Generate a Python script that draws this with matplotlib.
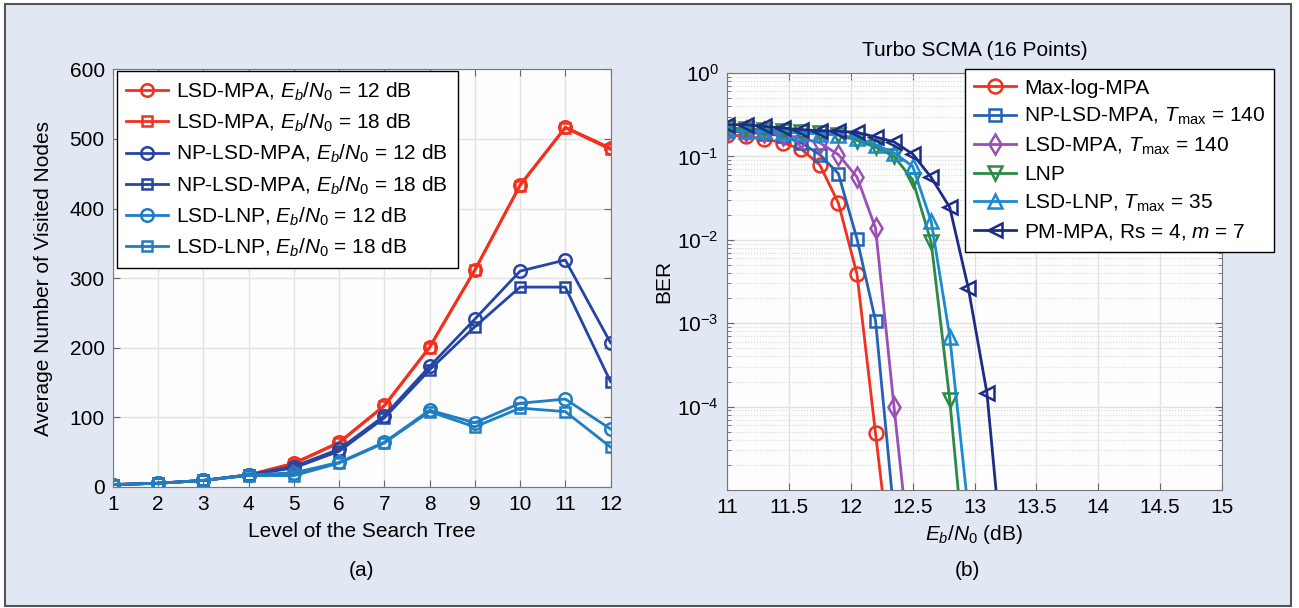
import matplotlib
matplotlib.use('Agg')
import matplotlib.pyplot as plt
from matplotlib.patches import Rectangle

plt.rcParams['font.family'] = ['Liberation Sans', 'DejaVu Sans']
plt.rcParams['mathtext.fontset'] = 'custom'
plt.rcParams['mathtext.rm'] = 'Liberation Sans'
plt.rcParams['mathtext.it'] = 'Liberation Sans:italic'
plt.rcParams['xtick.direction'] = 'in'
plt.rcParams['ytick.direction'] = 'in'

# (a) visited nodes per tree level
levels = [1, 2, 3, 4, 5, 6, 7, 8, 9, 10, 11, 12]
lsd_mpa_12 = [3, 5, 9, 17, 34, 64, 117, 201, 312, 434, 517, 487]
lsd_mpa_18 = [3, 5, 9, 17, 33, 63, 116, 200, 311, 433, 516, 485]
np_lsd_12 = [3, 5, 9, 17, 29, 54, 102, 173, 241, 310, 326, 207]
np_lsd_18 = [3, 5, 9, 17, 27, 51, 99, 168, 230, 287, 287, 151]
lsd_lnp_12 = [3, 5, 9, 17, 20, 35, 64, 110, 92, 120, 126, 83]
lsd_lnp_18 = [3, 5, 9, 16, 16, 34, 63, 108, 86, 113, 108, 57]

# (b) BER vs Eb/N0
ebn0 = [11.0, 11.15, 11.3, 11.45, 11.6, 11.75, 11.9, 12.05, 12.2, 12.35,
        12.5, 12.65, 12.8, 12.95, 13.1, 13.25]
ber_maxlog = [0.182, 0.174, 0.163, 0.145, 0.122, 0.079, 0.0275, 0.0039, 4.8e-5, 6e-7]
ber_np_lsd = [0.200, 0.194, 0.187, 0.177, 0.145, 0.105, 0.062, 0.0103, 1.07e-3, 5e-6]
ber_lsd_mpa = [0.204, 0.200, 0.195, 0.182, 0.166, 0.145, 0.105, 0.0565, 0.0138, 9.8e-5, 8e-7]
ber_lnp = [0.219, 0.215, 0.209, 0.203, 0.196, 0.191, 0.182, 0.155, 0.129, 0.100,
           0.0525, 0.0093, 1.2e-4, 5e-7]
ber_lsd_lnp = [0.209, 0.204, 0.200, 0.195, 0.191, 0.186, 0.180, 0.166, 0.138, 0.110,
               0.076, 0.0166, 6.9e-4, 5.6e-6]
ber_pm = [0.240, 0.240, 0.229, 0.219, 0.209, 0.203, 0.200, 0.194, 0.171, 0.149,
          0.107, 0.056, 0.0244, 2.63e-3, 1.47e-4, 6.3e-7]

red = '#f2301e'
blue_dk = '#2545a5'
blue_lt = '#1f7dc2'

fig = plt.figure(figsize=(12.99, 6.08), dpi=100, facecolor='white')
fig.patches.append(Rectangle((5 / 1299, 2 / 608), 1286 / 1299, 602 / 608,
                             transform=fig.transFigure, facecolor='#e1e7f3',
                             edgecolor='#555555', linewidth=1.5, zorder=-10))

fs = 15
EbN0 = r'$E_b/N_0$'

# ---- left plot ----
ax1 = fig.add_axes([0.087, 0.1995, 0.383, 0.6863])
ax1.set_facecolor('#fdfdfe')
kc = dict(lw=2.0, ms=9, mew=1.8, mfc='none')
ks = dict(lw=2.0, ms=7.5, mew=1.8, mfc='none')
ax1.plot(levels, lsd_mpa_12, 'o-', color=red, label='LSD-MPA, ' + EbN0 + ' = 12 dB', **kc)
ax1.plot(levels, lsd_mpa_18, 's-', color=red, label='LSD-MPA, ' + EbN0 + ' = 18 dB', **ks)
ax1.plot(levels, np_lsd_12, 'o-', color=blue_dk, label='NP-LSD-MPA, ' + EbN0 + ' = 12 dB', **kc)
ax1.plot(levels, np_lsd_18, 's-', color=blue_dk, label='NP-LSD-MPA, ' + EbN0 + ' = 18 dB', **ks)
ax1.plot(levels, lsd_lnp_12, 'o-', color=blue_lt, label='LSD-LNP, ' + EbN0 + ' = 12 dB', **kc)
ax1.plot(levels, lsd_lnp_18, 's-', color=blue_lt, label='LSD-LNP, ' + EbN0 + ' = 18 dB', **ks)
ax1.set_xlim(1, 12)
ax1.set_ylim(0, 600)
ax1.set_xticks(levels)
ax1.set_yticks([0, 100, 200, 300, 400, 500, 600])
ax1.grid(True, color='#e2e2e2', lw=1)
ax1.set_axisbelow(True)
ax1.tick_params(labelsize=fs, top=True, right=True, length=5, color='#666666', pad=6)
for s in ax1.spines.values():
    s.set_color('#777777')
ax1.set_xlabel('Level of the Search Tree', fontsize=fs, labelpad=6)
ax1.set_ylabel('Average Number of Visited Nodes', fontsize=fs, labelpad=12)
leg1 = ax1.legend(loc='upper left', bbox_to_anchor=(0.008, 0.996), fontsize=fs,
                  handlelength=2.0, labelspacing=0.43, borderpad=0.45,
                  borderaxespad=0, handletextpad=0.4,
                  fancybox=False, framealpha=1, edgecolor='black')
leg1.get_frame().set_linewidth(1.0)
fig.text(0.2785, 0.062, '(a)', fontsize=fs, ha='center', va='center')

# ---- right plot ----
ax2 = fig.add_axes([0.5597, 0.194, 0.381, 0.686])
ax2.set_facecolor('#fdfdfe')
kw2 = dict(lw=2.0, ms=10, mew=1.8, mfc='none')
ax2.semilogy(ebn0[:len(ber_maxlog)], ber_maxlog, 'o-', color=red, label='Max-log-MPA', **kw2)
ax2.semilogy(ebn0[:len(ber_np_lsd)], ber_np_lsd, 's-', color='#2462b4',
             label=r'NP-LSD-MPA, $T_{\rm max}$ = 140', lw=2.0, ms=8, mew=1.8, mfc='none')
ax2.semilogy(ebn0[:len(ber_lsd_mpa)], ber_lsd_mpa, 'd-', color='#9b4fb5',
             label=r'LSD-MPA, $T_{\rm max}$ = 140', **kw2)
ax2.semilogy(ebn0[:len(ber_lnp)], ber_lnp, 'v-', color='#2c8a45', label='LNP', **kw2)
ax2.semilogy(ebn0[:len(ber_lsd_lnp)], ber_lsd_lnp, '^-', color='#1c8ad0',
             label=r'LSD-LNP, $T_{\rm max}$ = 35', **kw2)
ax2.semilogy(ebn0[:len(ber_pm)], ber_pm, '<-', color='#1d2d85',
             label=r'PM-MPA, Rs = 4, $m$ = 7', **kw2)
ax2.set_xlim(11, 15)
ax2.set_ylim(1e-5, 1)
ax2.set_xticks([11, 11.5, 12, 12.5, 13, 13.5, 14, 14.5, 15])
ax2.set_xticklabels(['11', '11.5', '12', '12.5', '13', '13.5', '14', '14.5', '15'])
ax2.set_yticks([1e-4, 1e-3, 1e-2, 1e-1, 1])
ax2.grid(True, which='major', color='#e2e2e2', lw=1)
ax2.grid(True, which='minor', color='#d8d8d8', lw=0.8, ls=':')
ax2.set_axisbelow(True)
ax2.tick_params(which='both', labelsize=fs, top=True, right=True, color='#666666')
ax2.tick_params(which='major', length=5, pad=6)
ax2.tick_params(which='minor', length=3)
for s in ax2.spines.values():
    s.set_color('#777777')
ax2.set_xlabel(r'$E_b/N_0$ (dB)', fontsize=fs, labelpad=4)
ax2.set_ylabel('BER', fontsize=fs)
ax2.yaxis.set_label_coords(-0.108, 0.5)
ax2.set_title('Turbo SCMA (16 Points)', fontsize=fs, pad=12)
leg2 = ax2.legend(loc='upper left', bbox_to_anchor=(0.7425, 0.886),
                  bbox_transform=fig.transFigure, fontsize=fs,
                  handlelength=2.0, labelspacing=0.4, borderpad=0.45,
                  borderaxespad=0, handletextpad=0.4,
                  fancybox=False, framealpha=1, edgecolor='black')
leg2.get_frame().set_linewidth(1.0)
fig.text(0.745, 0.062, '(b)', fontsize=fs, ha='center', va='center')

fig.savefig('out.png', dpi=100)
